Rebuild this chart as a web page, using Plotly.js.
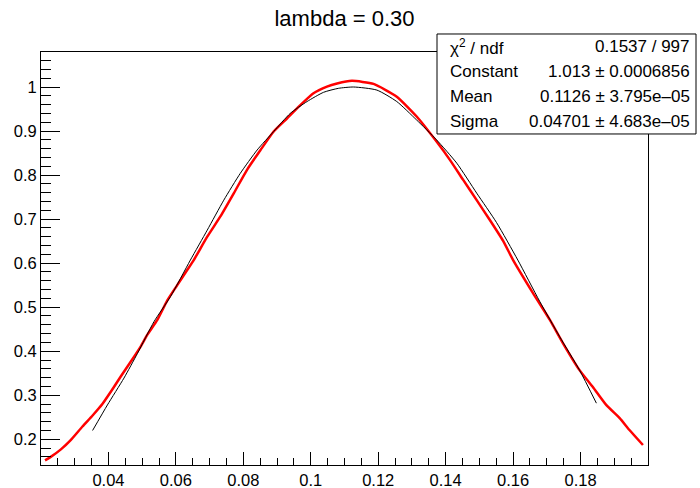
<!DOCTYPE html>
<html>
<head>
<meta charset="utf-8">
<script src="https://cdn.plot.ly/plotly-3.0.1.min.js"></script>
<style>html,body{margin:0;padding:0;background:#fff;}#chart{width:700px;height:488px;}</style>
</head>
<body>
<div id="chart"></div>
<script>
// Red curve (fitted data)
var redX = [0.0212,0.0229,0.0259,0.0288,0.0323,0.0353,0.0382,0.0407,0.0436,0.0466,0.0496,0.0515,0.0545,0.0575,0.0604,0.0634,0.0653,0.0693,0.0732,0.0772,0.0811,0.0851,0.0890,0.0930,0.0969,0.1008,0.1048,0.1078,0.1122,0.1186,0.1255,0.1314,0.1373,0.1413,0.1452,0.1492,0.1531,0.1570,0.1600,0.1659,0.1709,0.1748,0.1797,0.1837,0.1876,0.1916,0.1945,0.1985];
var redY = [0.152,0.160,0.177,0.198,0.229,0.254,0.280,0.308,0.342,0.376,0.411,0.437,0.471,0.516,0.550,0.585,0.607,0.660,0.706,0.759,0.812,0.857,0.899,0.929,0.959,0.986,1.001,1.008,1.014,1.007,0.978,0.933,0.876,0.834,0.789,0.743,0.698,0.651,0.607,0.532,0.471,0.418,0.357,0.318,0.278,0.248,0.221,0.187];
// Black reference curve
var blackX = [0.0353,0.0397,0.0446,0.0486,0.0535,0.0584,0.0643,0.0693,0.0742,0.0791,0.0841,0.0890,0.0939,0.0989,0.1038,0.1082,0.1127,0.1196,0.1255,0.1314,0.1373,0.1433,0.1492,0.1551,0.1614,0.1679,0.1738,0.1797,0.1847];
var blackY = [0.220,0.278,0.339,0.395,0.467,0.524,0.607,0.675,0.743,0.804,0.857,0.899,0.940,0.967,0.988,0.997,1.000,0.993,0.967,0.925,0.880,0.827,0.759,0.692,0.607,0.513,0.433,0.357,0.282];
// Tick labels
var xTickVals = [0.04,0.06,0.08,0.10,0.12,0.14,0.16,0.18];
var xTickText = ["0.04","0.06","0.08","0.1","0.12","0.14","0.16","0.18"];
var yTickVals = [0.2,0.3,0.4,0.5,0.6,0.7,0.8,0.9,1.0];
var yTickText = ["0.2","0.3","0.4","0.5","0.6","0.7","0.8","0.9","1"];
// Stats box
var statLabels = ["χ<sup>2</sup> / ndf","Constant","Mean","Sigma"];
var statValues = ["0.1537 / 997","1.013 ± 0.0006856","0.1126 ± 3.795e–05","0.04701 ± 4.683e–05"];
var titleText = "lambda = 0.30";

var FONT = "Liberation Sans, Arial, Helvetica, sans-serif";
var traces = [
  {x: redX, y: redY, type: 'scatter', mode: 'lines', line: {color: '#ff0000', width: 2.5, shape: 'spline', smoothing: 0.5}, hoverinfo: 'skip'},
  {x: blackX, y: blackY, type: 'scatter', mode: 'lines', line: {color: '#000000', width: 1, shape: 'spline', smoothing: 0.6}, hoverinfo: 'skip'}
];

var rowY = [1.0133, 0.9528, 0.8923, 0.8317];
var annotations = [];
for (var i = 0; i < statLabels.length; i++) {
  annotations.push({xref: 'paper', yref: 'paper', x: 0.671, y: rowY[i], xanchor: 'left', yanchor: 'middle', text: statLabels[i], showarrow: false, font: {family: FONT, size: 17, color: '#000'}});
  annotations.push({xref: 'paper', yref: 'paper', x: 1.0725, y: rowY[i], xanchor: 'right', yanchor: 'middle', text: statValues[i], showarrow: false, font: {family: FONT, size: 17, color: '#000'}});
}

var layout = {
  width: 700, height: 488,
  margin: {l: 41, r: 52, t: 52, b: 23, pad: 0},
  paper_bgcolor: '#fff', plot_bgcolor: '#fff',
  showlegend: false,
  hovermode: false,
  title: {text: titleText, x: 0.5, xref: 'paper', xanchor: 'center', y: 0.963, yref: 'container', yanchor: 'middle', font: {family: FONT, size: 22, color: '#000'}},
  xaxis: {
    range: [0.02, 0.2], showgrid: false, zeroline: false,
    showline: true, linecolor: '#000', linewidth: 1, mirror: true,
    tickmode: 'array', tickvals: xTickVals, ticktext: xTickText,
    ticks: 'inside', ticklen: 13, tickwidth: 1, tickcolor: '#000',
    minor: {dtick: 0.005, tick0: 0, ticks: 'inside', ticklen: 7, tickwidth: 1, tickcolor: '#000', showgrid: false},
    tickfont: {family: FONT, size: 16.5, color: '#000'}
  },
  yaxis: {
    range: [0.1416, 1.0795], showgrid: false, zeroline: false,
    showline: true, linecolor: '#000', linewidth: 1, mirror: true,
    tickmode: 'array', tickvals: yTickVals, ticktext: yTickText,
    ticks: 'inside', ticklen: 19, tickwidth: 1, tickcolor: '#000',
    minor: {dtick: 0.02, tick0: 0, ticks: 'inside', ticklen: 10, tickwidth: 1, tickcolor: '#000', showgrid: false},
    tickfont: {family: FONT, size: 16.5, color: '#000'}
  },
  shapes: [
    {type: 'rect', xref: 'paper', yref: 'paper', x0: 0.6524, x1: 1.0791, y0: 0.8015, y1: 1.0436, fillcolor: '#fff', line: {color: '#000', width: 1}, layer: 'above'}
  ],
  annotations: annotations
};

Plotly.newPlot('chart', traces, layout, {displayModeBar: false, staticPlot: true});
</script>
</body>
</html>
